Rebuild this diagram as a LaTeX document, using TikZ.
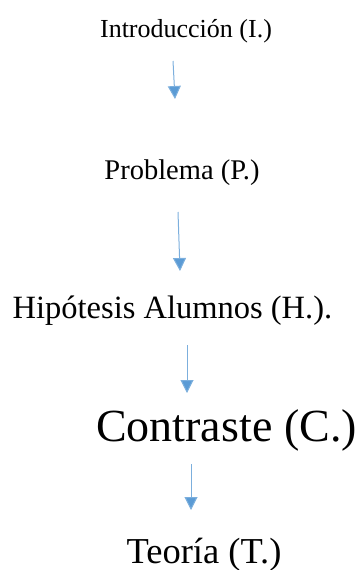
\documentclass[tikz,border=0pt]{standalone}
\usepackage{fontspec}
\setmainfont{Liberation Serif}
\usetikzlibrary{arrows.meta}
\definecolor{flowblue}{RGB}{91,155,213}
\tikzset{
	paso/.style={anchor=base,inner sep=0pt},
	flecha/.style={draw=flowblue!80,line width=1pt,-{Triangle[width=13pt,length=13pt,fill=flowblue]}}
}

\begin{document}
\begin{tikzpicture}[x=1pt,y=-1pt]
		\useasboundingbox (0,0) rectangle (362,570);
		\coordinate (a1) at (173,61);
		\coordinate (b1) at (175,99);
		\coordinate (a2) at (178,212);
		\coordinate (b2) at (180,271);
		\coordinate (a3) at (187,345);
		\coordinate (b3) at (187,393);
		\coordinate (a4) at (191,464);
		\coordinate (b4) at (191,510);
		\node[paso,font=\fontsize{26}{30}\selectfont] (intro) at (186,37) {Introducción (I.)};
		\node[paso,font=\fontsize{28.5}{32}\selectfont] (prob) at (182,179) {Problema (P.)};
		\node[paso,font=\fontsize{32.5}{36}\selectfont] (hipo) at (172.5,318) {Hipótesis Alumnos (H.).};
		\node[paso,font=\fontsize{46}{50}\selectfont] (contr) at (226.5,441) {Contraste (C.)};
		\node[paso,font=\fontsize{36.5}{40}\selectfont] (teo) at (204,563) {Teoría (T.)};
		\draw[flecha] (a1) -- (b1);
		\draw[flecha] (a2) -- (b2);
		\draw[flecha] (a3) -- (b3);
		\draw[flecha] (a4) -- (b4);
	\end{tikzpicture}
\end{document}
